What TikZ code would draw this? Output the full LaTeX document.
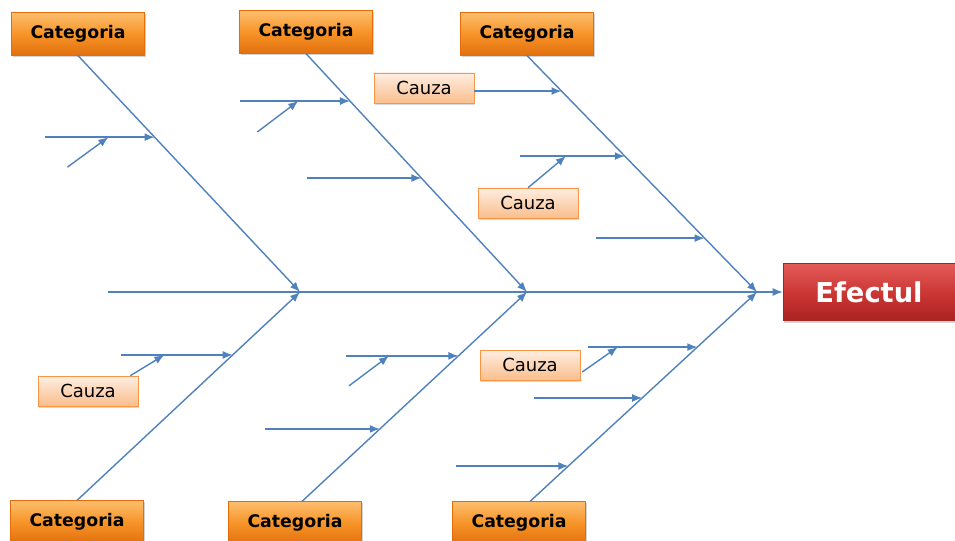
\documentclass[tikz,border=0pt]{standalone}
\usepackage{fontspec}
\setsansfont{DejaVu Sans}
\usetikzlibrary{arrows.meta,shadows,calc}
\definecolor{bone}{RGB}{79,129,189}
\definecolor{catTop}{RGB}{253,190,110}
\definecolor{catMid}{RGB}{247,148,40}
\definecolor{catBot}{RGB}{226,112,14}
\definecolor{catLine}{RGB}{228,108,10}
\definecolor{czTop}{RGB}{254,238,226}
\definecolor{czBot}{RGB}{250,190,140}
\definecolor{czLine}{RGB}{247,150,70}
\definecolor{effTop}{RGB}{226,92,88}
\definecolor{effMid}{RGB}{205,55,52}
\definecolor{effBot}{RGB}{170,35,35}

\tikzset{
  cat/.style={draw=catLine, top color=catTop, bottom color=catBot, middle color=catMid,
    minimum width=100pt, minimum height=32pt, inner sep=0pt,
    font=\sffamily\bfseries\fontsize{13}{15}\selectfont,
    drop shadow={shadow xshift=1pt, shadow yshift=-1.2pt, opacity=0.35}},
  cauza/.style={draw=czLine, top color=czTop, bottom color=czBot,
    minimum width=75pt, minimum height=22.5pt, inner sep=0pt,
    font=\sffamily\fontsize{13.5}{15}\selectfont,
    drop shadow={shadow xshift=1pt, shadow yshift=-1.2pt, opacity=0.3}},
  eff/.style={draw=effBot, top color=effTop, bottom color=effBot, middle color=effMid,
    minimum width=129pt, minimum height=42.75pt, inner sep=0pt, text=white,
    font=\sffamily\bfseries\fontsize{20.5}{24}\selectfont,
    drop shadow={shadow xshift=1pt, shadow yshift=-1.5pt, opacity=0.35}},
  bone/.style={draw=bone, line width=1.05pt},
  arr/.style={bone, -{Latex[length=7.5pt,width=6pt]}}
}

\begin{document}
\begin{tikzpicture}[x=0.75pt,y=-0.75pt]
  \useasboundingbox (0,0) rectangle (955,541);

  % categories and effect
  \node[cat] (c1) at (78,34) {Categoria};
  \node[cat] (c2) at (306,32) {Categoria};
  \node[cat] (c3) at (527,34) {Categoria};
  \node[cat] (c4) at (77,522) {Categoria};
  \node[cat] (c5) at (295,523) {Categoria};
  \node[cat] (c6) at (519,523) {Categoria};
  \node[eff] (eff) at (869,292) {Efectul};

  % causes
  \node[cauza] (cz1) at (424,88) {Cauza};
  \node[cauza] (cz2) at (528,203) {Cauza};
  \node[cauza] (cz3) at (88,391) {Cauza};
  \node[cauza] (cz4) at (530,365) {Cauza};

  % joints on the spine and start of each bone
  \coordinate (head) at (108,292);
  \coordinate (j1) at (300,292);
  \coordinate (j2) at (527,292);
  \coordinate (j3) at (757,292);
  \coordinate (s1) at (c1.south);
  \coordinate (s2) at (c2.south);
  \coordinate (s3) at (c3.south);
  \coordinate (s4) at (c4.north);
  \coordinate (s5) at ($(c5.north)+(7,0)$);
  \coordinate (s6) at ($(c6.north)+(11,0)$);

  % spine
  \draw[arr] (head) -- (eff.west);

  % main bones
  \foreach \s/\j in {s1/j1,s2/j2,s3/j3,s4/j1,s5/j2,s6/j3}
    \draw[arr] (\s) -- (\j);

  % horizontal sub-causes
  \foreach \s/\j/\t/\len/\n in {
      s1/j1/0.345/110/a1, s2/j2/0.199/110/a2, s2/j2/0.522/114/a3,
      s3/j3/0.425/105/a5, s3/j3/0.772/109/a6,
      s4/j1/0.698/112/b1, s5/j2/0.695/112/b2, s5/j2/0.346/115/b3,
      s6/j3/0.737/109/b4, s6/j3/0.494/108/b5, s6/j3/0.169/112/b6}{
    \coordinate (\n) at ($(\s)!\t!(\j)$);
    \coordinate (\n-t) at ($(\n)+(-\len,0)$);
    \draw[arr] (\n-t) -- (\n);
  }
  \coordinate (a4) at ($(s3)!0.150!(j3)$);
  \draw[arr] (cz1.east |- a4) -- (a4);

  % small slanted sub-causes
  \foreach \h/\f/\dx/\dy/\n in {a1/0.58/-41/30/d1, a2/0.53/-41/31/d2, b2/0.38/-40/30/d3}{
    \coordinate (\n) at ($(\h-t)!\f!(\h)$);
    \coordinate (\n-t) at ($(\n)+(\dx,\dy)$);
    \draw[arr] (\n-t) -- (\n);
  }
  \coordinate (d4) at ($(a5-t)!0.44!(a5)$);
  \coordinate (d5) at ($(b1-t)!0.39!(b1)$);
  \coordinate (d6) at ($(b4-t)!0.27!(b4)$);
  \coordinate (e5) at ($(cz3.north east)+(-8,0)$);
  \coordinate (e6) at ($(cz4.east)+(2,7)$);
  \draw[arr] (cz2.north) -- (d4);
  \draw[arr] (e5) -- (d5);
  \draw[arr] (e6) -- (d6);
\end{tikzpicture}
\end{document}
